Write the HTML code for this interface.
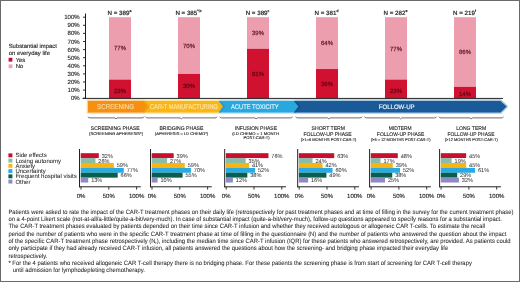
<!DOCTYPE html>
<html><head><meta charset="utf-8"><style>
html,body{margin:0;padding:0;background:#fff;}
svg{display:block;font-family:"Liberation Sans", sans-serif;will-change:transform;text-rendering:geometricPrecision;}
</style></head><body>
<svg width="520" height="282" viewBox="0 0 520 282" font-family='"Liberation Sans", sans-serif'>
<rect x="0.5" y="0.5" width="519" height="281" fill="#fff" stroke="#6a6a6a" stroke-width="1"/>
<text x="8.7" y="48.2" font-size="5.9" text-anchor="start" fill="#222222" stroke="#222222" stroke-width="0.12" >Substantial impact</text>
<text x="8.7" y="54.7" font-size="5.9" text-anchor="start" fill="#222222" stroke="#222222" stroke-width="0.12" >on everyday life</text>
<rect x="8.6" y="57.8" width="3.8" height="3.8" fill="#c0103a"/>
<text x="15.7" y="61.6" font-size="5.9" text-anchor="start" fill="#222222" stroke="#222222" stroke-width="0.12" >Yes</text>
<rect x="8.6" y="64.4" width="3.8" height="3.8" fill="#e9a3b3"/>
<text x="15.7" y="68.1" font-size="5.9" text-anchor="start" fill="#222222" stroke="#222222" stroke-width="0.12" >No</text>
<line x1="85.5" y1="13.5" x2="85.5" y2="98.7" stroke="#1a1a1a" stroke-width="1"/>
<line x1="83" y1="17.20" x2="85.5" y2="17.20" stroke="#1a1a1a" stroke-width="0.9"/>
<text x="79.8" y="19.20" font-size="6.1" text-anchor="end" fill="#222222" stroke="#222222" stroke-width="0.12" >100%</text>
<line x1="83" y1="25.30" x2="85.5" y2="25.30" stroke="#1a1a1a" stroke-width="0.9"/>
<text x="79.8" y="27.30" font-size="6.1" text-anchor="end" fill="#222222" stroke="#222222" stroke-width="0.12" >90%</text>
<line x1="83" y1="33.40" x2="85.5" y2="33.40" stroke="#1a1a1a" stroke-width="0.9"/>
<text x="79.8" y="35.40" font-size="6.1" text-anchor="end" fill="#222222" stroke="#222222" stroke-width="0.12" >80%</text>
<line x1="83" y1="41.50" x2="85.5" y2="41.50" stroke="#1a1a1a" stroke-width="0.9"/>
<text x="79.8" y="43.50" font-size="6.1" text-anchor="end" fill="#222222" stroke="#222222" stroke-width="0.12" >70%</text>
<line x1="83" y1="49.60" x2="85.5" y2="49.60" stroke="#1a1a1a" stroke-width="0.9"/>
<text x="79.8" y="51.60" font-size="6.1" text-anchor="end" fill="#222222" stroke="#222222" stroke-width="0.12" >60%</text>
<line x1="83" y1="57.70" x2="85.5" y2="57.70" stroke="#1a1a1a" stroke-width="0.9"/>
<text x="79.8" y="59.70" font-size="6.1" text-anchor="end" fill="#222222" stroke="#222222" stroke-width="0.12" >50%</text>
<line x1="83" y1="65.80" x2="85.5" y2="65.80" stroke="#1a1a1a" stroke-width="0.9"/>
<text x="79.8" y="67.80" font-size="6.1" text-anchor="end" fill="#222222" stroke="#222222" stroke-width="0.12" >40%</text>
<line x1="83" y1="73.90" x2="85.5" y2="73.90" stroke="#1a1a1a" stroke-width="0.9"/>
<text x="79.8" y="75.90" font-size="6.1" text-anchor="end" fill="#222222" stroke="#222222" stroke-width="0.12" >30%</text>
<line x1="83" y1="82.00" x2="85.5" y2="82.00" stroke="#1a1a1a" stroke-width="0.9"/>
<text x="79.8" y="84.00" font-size="6.1" text-anchor="end" fill="#222222" stroke="#222222" stroke-width="0.12" >20%</text>
<line x1="83" y1="90.10" x2="85.5" y2="90.10" stroke="#1a1a1a" stroke-width="0.9"/>
<text x="79.8" y="92.10" font-size="6.1" text-anchor="end" fill="#222222" stroke="#222222" stroke-width="0.12" >10%</text>
<line x1="83" y1="98.20" x2="85.5" y2="98.20" stroke="#1a1a1a" stroke-width="0.9"/>
<text x="79.8" y="100.20" font-size="6.1" text-anchor="end" fill="#222222" stroke="#222222" stroke-width="0.12" >0%</text>
<rect x="109" y="17.2" width="22" height="62.37" fill="#ed9eae"/>
<rect x="109" y="79.57" width="22" height="18.93" fill="#d0112f"/>
<text x="120" y="50.35" font-size="6" text-anchor="middle" fill="#6b2232" stroke="#6b2232" stroke-width="0.25" >77%</text>
<text x="120" y="92.55" font-size="6" text-anchor="middle" fill="#6a0616" stroke="#6a0616" stroke-width="0.25" >23%</text>
<text x="119.5" y="14.8" font-size="6.2" text-anchor="middle" fill="#222222" stroke="#222222" stroke-width="0.2">N = 389<tspan font-size="3.6" dy="-3.0">a</tspan></text>
<rect x="178" y="17.2" width="22" height="56.70" fill="#ed9eae"/>
<rect x="178" y="73.90" width="22" height="24.60" fill="#d0112f"/>
<text x="189" y="47.95" font-size="6" text-anchor="middle" fill="#6b2232" stroke="#6b2232" stroke-width="0.25" >70%</text>
<text x="189" y="87.55" font-size="6" text-anchor="middle" fill="#6a0616" stroke="#6a0616" stroke-width="0.25" >30%</text>
<text x="188.5" y="14.8" font-size="6.2" text-anchor="middle" fill="#222222" stroke="#222222" stroke-width="0.2">N = 385<tspan font-size="3.6" dy="-3.0">*,b</tspan></text>
<rect x="247" y="17.2" width="22" height="31.59" fill="#ed9eae"/>
<rect x="247" y="48.79" width="22" height="49.71" fill="#d0112f"/>
<text x="258" y="34.90" font-size="6" text-anchor="middle" fill="#6b2232" stroke="#6b2232" stroke-width="0.25" >39%</text>
<text x="258" y="76.15" font-size="6" text-anchor="middle" fill="#6a0616" stroke="#6a0616" stroke-width="0.25" >61%</text>
<text x="257.5" y="14.8" font-size="6.2" text-anchor="middle" fill="#222222" stroke="#222222" stroke-width="0.2">N = 389<tspan font-size="3.6" dy="-3.0">c</tspan></text>
<rect x="316" y="17.2" width="22" height="51.84" fill="#ed9eae"/>
<rect x="316" y="69.04" width="22" height="29.46" fill="#d0112f"/>
<text x="327" y="44.75" font-size="6" text-anchor="middle" fill="#6b2232" stroke="#6b2232" stroke-width="0.25" >64%</text>
<text x="327" y="85.95" font-size="6" text-anchor="middle" fill="#6a0616" stroke="#6a0616" stroke-width="0.25" >36%</text>
<text x="326.5" y="14.8" font-size="6.2" text-anchor="middle" fill="#222222" stroke="#222222" stroke-width="0.2">N = 381<tspan font-size="3.6" dy="-3.0">d</tspan></text>
<rect x="385" y="17.2" width="22" height="62.37" fill="#ed9eae"/>
<rect x="385" y="79.57" width="22" height="18.93" fill="#d0112f"/>
<text x="396" y="50.55" font-size="6" text-anchor="middle" fill="#6b2232" stroke="#6b2232" stroke-width="0.25" >77%</text>
<text x="396" y="92.55" font-size="6" text-anchor="middle" fill="#6a0616" stroke="#6a0616" stroke-width="0.25" >23%</text>
<text x="395.5" y="14.8" font-size="6.2" text-anchor="middle" fill="#222222" stroke="#222222" stroke-width="0.2">N = 282<tspan font-size="3.6" dy="-3.0">e</tspan></text>
<rect x="454" y="17.2" width="22" height="69.66" fill="#ed9eae"/>
<rect x="454" y="86.86" width="22" height="11.64" fill="#d0112f"/>
<text x="465" y="53.85" font-size="6" text-anchor="middle" fill="#6b2232" stroke="#6b2232" stroke-width="0.25" >86%</text>
<text x="465" y="95.65" font-size="6" text-anchor="middle" fill="#6a0616" stroke="#6a0616" stroke-width="0.25" >14%</text>
<text x="464.5" y="14.8" font-size="6.2" text-anchor="middle" fill="#222222" stroke="#222222" stroke-width="0.2">N = 219<tspan font-size="3.6" dy="-3.0">f</tspan></text>
<line x1="82.5" y1="98.4" x2="503" y2="98.4" stroke="#262626" stroke-width="1"/>
<polygon points="294,100.6 500.5,100.6 506.6,106.55 500.5,112.5 294,112.5" fill="#a4c8e2" stroke="#a4c8e2" stroke-width="2.6" stroke-linejoin="round"/>
<polygon points="219,100.6 293.8,100.6 298.4,106.55 293.8,112.5 219,112.5" fill="#b5e0f4" stroke="#b5e0f4" stroke-width="2.6" stroke-linejoin="round"/>
<polygon points="143,100.6 218.6,100.6 223.0,106.55 218.6,112.5 143,112.5" fill="#fde6a0" stroke="#fde6a0" stroke-width="2.6" stroke-linejoin="round"/>
<polygon points="88,100.6 143.3,100.6 147.2,106.55 143.3,112.5 88,112.5" fill="#fcd49a" stroke="#fcd49a" stroke-width="2.6" stroke-linejoin="round"/>
<polygon points="294,101.0 500.5,101.0 506.6,106.55 500.5,112.5 294,112.5" fill="#1b5a98"/>
<polygon points="293.8,101.0 298.4,106.55 293.8,112.5 296.0,112.5 300.59999999999997,106.55 296.0,101.0" fill="#104a80" opacity="0.7"/>
<polygon points="219,101.0 293.8,101.0 298.4,106.55 293.8,112.5 219,112.5" fill="#29a8e0"/>
<polygon points="218.6,101.0 223.0,106.55 218.6,112.5 220.79999999999998,112.5 225.2,106.55 220.79999999999998,101.0" fill="#2196cc" opacity="0.7"/>
<polygon points="143,101.0 218.6,101.0 223.0,106.55 218.6,112.5 143,112.5" fill="#fab517"/>
<polygon points="143.3,101.0 147.2,106.55 143.3,112.5 145.5,112.5 149.39999999999998,106.55 145.5,101.0" fill="#ec9d10" opacity="0.7"/>
<polygon points="88,101.0 143.3,101.0 147.2,106.55 143.3,112.5 88,112.5" fill="#f6900f"/>
<text x="115.55" y="108.9" font-size="7.0" text-anchor="middle" fill="#fcd9a6" stroke="#fcd9a6" stroke-width="0.15" textLength="37.00" lengthAdjust="spacingAndGlyphs" >SCREENING</text>
<text x="184.0" y="109.1" font-size="7.0" text-anchor="middle" fill="#fde7a6" stroke="#fde7a6" stroke-width="0.15" textLength="67.90" lengthAdjust="spacingAndGlyphs" >CAR-T MANUFACTURING</text>
<text x="254.85" y="109.0" font-size="6.7" text-anchor="middle" fill="#e3f4fc" stroke="#e3f4fc" stroke-width="0.15" textLength="47.80" lengthAdjust="spacingAndGlyphs" >ACUTE TOXICITY</text>
<text x="396.7" y="108.8" font-size="6.5" text-anchor="middle" fill="#eef3f9" stroke="#eef3f9" stroke-width="0.18" textLength="35.90" lengthAdjust="spacingAndGlyphs" >FOLLOW-UP</text>
<path d="M88,116.7 Q88.3,117.9 90,117.9 L114.8,117.9 L116.0,118.9 L117.2,117.9 L142,117.9 Q143.7,117.9 144,116.7" fill="none" stroke="#5f5a58" stroke-width="0.9"/>
<path d="M145.6,116.7 Q145.9,117.9 147.6,117.9 L180.10000000000002,117.9 L181.3,118.9 L182.5,117.9 L215,117.9 Q216.7,117.9 217,116.7" fill="none" stroke="#5f5a58" stroke-width="0.9"/>
<path d="M219.7,116.7 Q220.0,117.9 221.7,117.9 L254.90000000000003,117.9 L256.1,118.9 L257.3,117.9 L290.5,117.9 Q292.2,117.9 292.5,116.7" fill="none" stroke="#5f5a58" stroke-width="0.9"/>
<path d="M295.7,116.7 Q296.0,117.9 297.7,117.9 L327.65000000000003,117.9 L328.85,118.9 L330.05,117.9 L360,117.9 Q361.7,117.9 362,116.7" fill="none" stroke="#5f5a58" stroke-width="0.9"/>
<path d="M364.5,116.7 Q364.8,117.9 366.5,117.9 L399.3,117.9 L400.5,118.9 L401.7,117.9 L434.5,117.9 Q436.2,117.9 436.5,116.7" fill="none" stroke="#5f5a58" stroke-width="0.9"/>
<path d="M439,116.7 Q439.3,117.9 441,117.9 L469.95,117.9 L471.15,118.9 L472.34999999999997,117.9 L501.3,117.9 Q503.0,117.9 503.3,116.7" fill="none" stroke="#5f5a58" stroke-width="0.9"/>
<text x="115.25" y="130.1" font-size="5.3" text-anchor="middle" fill="#222" stroke="#222" stroke-width="0.1" textLength="49.00" lengthAdjust="spacingAndGlyphs" >SCREENING PHASE</text>
<text x="116.1" y="134.8" font-size="4.1" text-anchor="middle" fill="#222" stroke="#222" stroke-width="0.12" textLength="54.10" lengthAdjust="spacingAndGlyphs" >(SCREENING APHERESIS*)</text>
<text x="181.45" y="130.1" font-size="5.3" text-anchor="middle" fill="#222" stroke="#222" stroke-width="0.1" textLength="44.00" lengthAdjust="spacingAndGlyphs" >BRIDGING PHASE</text>
<text x="181.5" y="134.8" font-size="4.1" text-anchor="middle" fill="#222" stroke="#222" stroke-width="0.12" textLength="53.30" lengthAdjust="spacingAndGlyphs" >(APHERESIS – LD CHEMO*)</text>
<text x="255.95" y="130.1" font-size="5.3" text-anchor="middle" fill="#222" stroke="#222" stroke-width="0.1" textLength="42.20" lengthAdjust="spacingAndGlyphs" >INFUSION PHASE</text>
<text x="255.6" y="134.8" font-size="4.1" text-anchor="middle" fill="#222" stroke="#222" stroke-width="0.12" textLength="46.90" lengthAdjust="spacingAndGlyphs" >(LD CHEMO – 1 MONTH</text>
<text x="256.6" y="139.1" font-size="4.1" text-anchor="middle" fill="#222" stroke="#222" stroke-width="0.12" textLength="26.10" lengthAdjust="spacingAndGlyphs" >POST-CAR-T)</text>
<text x="328.3" y="130.1" font-size="5.3" text-anchor="middle" fill="#222" stroke="#222" stroke-width="0.1" textLength="33.50" lengthAdjust="spacingAndGlyphs" >SHORT TERM</text>
<text x="327.6" y="135.7" font-size="5.3" text-anchor="middle" fill="#222" stroke="#222" stroke-width="0.1" textLength="48.30" lengthAdjust="spacingAndGlyphs" >FOLLOW-UP PHASE</text>
<text x="328.6" y="140.9" font-size="4.1" text-anchor="middle" fill="#222" stroke="#222" stroke-width="0.12" textLength="55.70" lengthAdjust="spacingAndGlyphs" >(&gt;1–6 MONTHS POST-CAR-T)</text>
<text x="400.2" y="130.1" font-size="5.3" text-anchor="middle" fill="#222" stroke="#222" stroke-width="0.1" textLength="22.90" lengthAdjust="spacingAndGlyphs" >MIDTERM</text>
<text x="400.65" y="135.7" font-size="5.3" text-anchor="middle" fill="#222" stroke="#222" stroke-width="0.1" textLength="47.60" lengthAdjust="spacingAndGlyphs" >FOLLOW-UP PHASE</text>
<text x="400.65" y="140.9" font-size="4.1" text-anchor="middle" fill="#222" stroke="#222" stroke-width="0.12" textLength="59.80" lengthAdjust="spacingAndGlyphs" >(&gt;6 – 12 MONTHS POST-CAR-T)</text>
<text x="471.2" y="130.1" font-size="5.3" text-anchor="middle" fill="#222" stroke="#222" stroke-width="0.1" textLength="29.90" lengthAdjust="spacingAndGlyphs" >LONG TERM</text>
<text x="471.0" y="135.7" font-size="5.3" text-anchor="middle" fill="#222" stroke="#222" stroke-width="0.1" textLength="46.90" lengthAdjust="spacingAndGlyphs" >FOLLOW-UP PHASE</text>
<text x="471.3" y="140.9" font-size="4.1" text-anchor="middle" fill="#222" stroke="#222" stroke-width="0.12" textLength="53.10" lengthAdjust="spacingAndGlyphs" >(&gt;12 MONTHS POST-CAR-T)</text>
<rect x="8.4" y="153.40" width="4" height="3.9" fill="#c8102e"/>
<text x="15.4" y="157.30" font-size="6.0" text-anchor="start" fill="#2a2a2a" stroke="#2a2a2a" stroke-width="0.06" >Side effects</text>
<rect x="8.4" y="158.65" width="4" height="3.9" fill="#88bea9"/>
<text x="15.4" y="162.55" font-size="6.0" text-anchor="start" fill="#2a2a2a" stroke="#2a2a2a" stroke-width="0.06" >Losing autonomy</text>
<rect x="8.4" y="163.90" width="4" height="3.9" fill="#f8b512"/>
<text x="15.4" y="167.80" font-size="6.0" text-anchor="start" fill="#2a2a2a" stroke="#2a2a2a" stroke-width="0.06" >Anxiety</text>
<rect x="8.4" y="169.15" width="4" height="3.9" fill="#29aae1"/>
<text x="15.4" y="173.05" font-size="6.0" text-anchor="start" fill="#2a2a2a" stroke="#2a2a2a" stroke-width="0.06" >Uncertainty</text>
<rect x="8.4" y="174.40" width="4" height="3.9" fill="#07604d"/>
<text x="15.4" y="178.30" font-size="6.0" text-anchor="start" fill="#2a2a2a" stroke="#2a2a2a" stroke-width="0.06" >Frequent hospital visits</text>
<rect x="8.4" y="179.65" width="4" height="3.9" fill="#9189c6"/>
<text x="15.4" y="183.55" font-size="6.0" text-anchor="start" fill="#2a2a2a" stroke="#2a2a2a" stroke-width="0.06" >Other</text>
<rect x="80.7" y="153.20" width="18.09" height="4.93" fill="#c8102e"/>
<rect x="80.7" y="158.08" width="14.76" height="4.93" fill="#88bea9"/>
<rect x="80.7" y="162.96" width="33.10" height="4.93" fill="#f8b512"/>
<rect x="80.7" y="167.84" width="43.11" height="4.93" fill="#29aae1"/>
<rect x="80.7" y="172.72" width="37.00" height="4.93" fill="#07604d"/>
<rect x="80.7" y="177.60" width="7.53" height="4.93" fill="#9189c6"/>
<rect x="99.79" y="153.50" width="13.5" height="4.28" fill="#fff"/>
<text x="101.69" y="157.64" font-size="5.6" text-anchor="start" fill="#3a3a3a" stroke="#3a3a3a" stroke-width="0.05" >32%</text>
<rect x="96.46" y="158.38" width="13.5" height="4.28" fill="#fff"/>
<text x="98.36" y="162.52" font-size="5.6" text-anchor="start" fill="#3a3a3a" stroke="#3a3a3a" stroke-width="0.05" >26%</text>
<rect x="114.80" y="163.26" width="13.5" height="4.28" fill="#fff"/>
<text x="116.70" y="167.40" font-size="5.6" text-anchor="start" fill="#3a3a3a" stroke="#3a3a3a" stroke-width="0.05" >59%</text>
<rect x="124.81" y="168.14" width="13.5" height="4.28" fill="#fff"/>
<text x="126.71" y="172.28" font-size="5.6" text-anchor="start" fill="#3a3a3a" stroke="#3a3a3a" stroke-width="0.05" >77%</text>
<rect x="118.70" y="173.02" width="13.5" height="4.28" fill="#fff"/>
<text x="120.60" y="177.16" font-size="5.6" text-anchor="start" fill="#3a3a3a" stroke="#3a3a3a" stroke-width="0.05" >66%</text>
<rect x="89.23" y="177.90" width="13.5" height="4.28" fill="#fff"/>
<text x="91.13" y="182.04" font-size="5.6" text-anchor="start" fill="#3a3a3a" stroke="#3a3a3a" stroke-width="0.05" >13%</text>
<line x1="79.5" y1="149" x2="79.5" y2="187.3" stroke="#222" stroke-width="1"/>
<line x1="79.0" y1="186.8" x2="140.8" y2="186.8" stroke="#222" stroke-width="1"/>
<line x1="81.00" y1="186.8" x2="81.00" y2="189.6" stroke="#222" stroke-width="0.9"/>
<text x="81.00" y="198" font-size="6" text-anchor="middle" fill="#222222" stroke="#222222" stroke-width="0.12" >0%</text>
<line x1="108.80" y1="186.8" x2="108.80" y2="189.6" stroke="#222" stroke-width="0.9"/>
<text x="108.80" y="198" font-size="6" text-anchor="middle" fill="#222222" stroke="#222222" stroke-width="0.12" >50%</text>
<line x1="136.60" y1="186.8" x2="136.60" y2="189.6" stroke="#222" stroke-width="0.9"/>
<text x="136.60" y="198" font-size="6" text-anchor="middle" fill="#222222" stroke="#222222" stroke-width="0.12" >100%</text>
<rect x="151.7" y="153.20" width="21.98" height="4.93" fill="#c8102e"/>
<rect x="151.7" y="158.08" width="15.31" height="4.93" fill="#88bea9"/>
<rect x="151.7" y="162.96" width="33.10" height="4.93" fill="#f8b512"/>
<rect x="151.7" y="167.84" width="39.22" height="4.93" fill="#29aae1"/>
<rect x="151.7" y="172.72" width="30.88" height="4.93" fill="#07604d"/>
<rect x="151.7" y="177.60" width="5.86" height="4.93" fill="#9189c6"/>
<rect x="174.68" y="153.50" width="13.5" height="4.28" fill="#fff"/>
<text x="176.58" y="157.64" font-size="5.6" text-anchor="start" fill="#3a3a3a" stroke="#3a3a3a" stroke-width="0.05" >39%</text>
<rect x="168.01" y="158.38" width="13.5" height="4.28" fill="#fff"/>
<text x="169.91" y="162.52" font-size="5.6" text-anchor="start" fill="#3a3a3a" stroke="#3a3a3a" stroke-width="0.05" >27%</text>
<rect x="185.80" y="163.26" width="13.5" height="4.28" fill="#fff"/>
<text x="187.70" y="167.40" font-size="5.6" text-anchor="start" fill="#3a3a3a" stroke="#3a3a3a" stroke-width="0.05" >59%</text>
<rect x="191.92" y="168.14" width="13.5" height="4.28" fill="#fff"/>
<text x="193.82" y="172.28" font-size="5.6" text-anchor="start" fill="#3a3a3a" stroke="#3a3a3a" stroke-width="0.05" >70%</text>
<rect x="183.58" y="173.02" width="13.5" height="4.28" fill="#fff"/>
<text x="185.48" y="177.16" font-size="5.6" text-anchor="start" fill="#3a3a3a" stroke="#3a3a3a" stroke-width="0.05" >55%</text>
<rect x="158.56" y="177.90" width="13.5" height="4.28" fill="#fff"/>
<text x="160.46" y="182.04" font-size="5.6" text-anchor="start" fill="#3a3a3a" stroke="#3a3a3a" stroke-width="0.05" >10%</text>
<line x1="150.5" y1="149" x2="150.5" y2="187.3" stroke="#222" stroke-width="1"/>
<line x1="150.0" y1="186.8" x2="211.8" y2="186.8" stroke="#222" stroke-width="1"/>
<line x1="152.00" y1="186.8" x2="152.00" y2="189.6" stroke="#222" stroke-width="0.9"/>
<text x="152.00" y="198" font-size="6" text-anchor="middle" fill="#222222" stroke="#222222" stroke-width="0.12" >0%</text>
<line x1="179.80" y1="186.8" x2="179.80" y2="189.6" stroke="#222" stroke-width="0.9"/>
<text x="179.80" y="198" font-size="6" text-anchor="middle" fill="#222222" stroke="#222222" stroke-width="0.12" >50%</text>
<line x1="207.60" y1="186.8" x2="207.60" y2="189.6" stroke="#222" stroke-width="0.9"/>
<text x="207.60" y="198" font-size="6" text-anchor="middle" fill="#222222" stroke="#222222" stroke-width="0.12" >100%</text>
<rect x="225.89999999999998" y="153.20" width="42.56" height="4.93" fill="#c8102e"/>
<rect x="225.89999999999998" y="158.08" width="19.76" height="4.93" fill="#88bea9"/>
<rect x="225.89999999999998" y="162.96" width="23.10" height="4.93" fill="#f8b512"/>
<rect x="225.89999999999998" y="167.84" width="29.21" height="4.93" fill="#29aae1"/>
<rect x="225.89999999999998" y="172.72" width="21.43" height="4.93" fill="#07604d"/>
<rect x="225.89999999999998" y="177.60" width="6.97" height="4.93" fill="#9189c6"/>
<rect x="269.46" y="153.50" width="13.5" height="4.28" fill="#fff"/>
<text x="271.36" y="157.64" font-size="5.6" text-anchor="start" fill="#3a3a3a" stroke="#3a3a3a" stroke-width="0.05" >76%</text>
<rect x="246.66" y="158.38" width="13.5" height="4.28" fill="#fff"/>
<text x="248.56" y="162.52" font-size="5.6" text-anchor="start" fill="#3a3a3a" stroke="#3a3a3a" stroke-width="0.05" >35%</text>
<rect x="250.00" y="163.26" width="13.5" height="4.28" fill="#fff"/>
<text x="251.90" y="167.40" font-size="5.6" text-anchor="start" fill="#3a3a3a" stroke="#3a3a3a" stroke-width="0.05" >41%</text>
<rect x="256.11" y="168.14" width="13.5" height="4.28" fill="#fff"/>
<text x="258.01" y="172.28" font-size="5.6" text-anchor="start" fill="#3a3a3a" stroke="#3a3a3a" stroke-width="0.05" >52%</text>
<rect x="248.33" y="173.02" width="13.5" height="4.28" fill="#fff"/>
<text x="250.23" y="177.16" font-size="5.6" text-anchor="start" fill="#3a3a3a" stroke="#3a3a3a" stroke-width="0.05" >38%</text>
<rect x="233.87" y="177.90" width="13.5" height="4.28" fill="#fff"/>
<text x="235.77" y="182.04" font-size="5.6" text-anchor="start" fill="#3a3a3a" stroke="#3a3a3a" stroke-width="0.05" >12%</text>
<line x1="224.7" y1="149" x2="224.7" y2="187.3" stroke="#222" stroke-width="1"/>
<line x1="224.2" y1="186.8" x2="286.0" y2="186.8" stroke="#222" stroke-width="1"/>
<line x1="226.20" y1="186.8" x2="226.20" y2="189.6" stroke="#222" stroke-width="0.9"/>
<text x="226.20" y="198" font-size="6" text-anchor="middle" fill="#222222" stroke="#222222" stroke-width="0.12" >0%</text>
<line x1="254.00" y1="186.8" x2="254.00" y2="189.6" stroke="#222" stroke-width="0.9"/>
<text x="254.00" y="198" font-size="6" text-anchor="middle" fill="#222222" stroke="#222222" stroke-width="0.12" >50%</text>
<line x1="281.80" y1="186.8" x2="281.80" y2="189.6" stroke="#222" stroke-width="0.9"/>
<text x="281.80" y="198" font-size="6" text-anchor="middle" fill="#222222" stroke="#222222" stroke-width="0.12" >100%</text>
<rect x="298.9" y="153.20" width="35.33" height="4.93" fill="#c8102e"/>
<rect x="298.9" y="158.08" width="13.64" height="4.93" fill="#88bea9"/>
<rect x="298.9" y="162.96" width="23.65" height="4.93" fill="#f8b512"/>
<rect x="298.9" y="167.84" width="33.66" height="4.93" fill="#29aae1"/>
<rect x="298.9" y="172.72" width="27.54" height="4.93" fill="#07604d"/>
<rect x="298.9" y="177.60" width="9.20" height="4.93" fill="#9189c6"/>
<rect x="335.23" y="153.50" width="13.5" height="4.28" fill="#fff"/>
<text x="337.13" y="157.64" font-size="5.6" text-anchor="start" fill="#3a3a3a" stroke="#3a3a3a" stroke-width="0.05" >63%</text>
<rect x="313.54" y="158.38" width="13.5" height="4.28" fill="#fff"/>
<text x="315.44" y="162.52" font-size="5.6" text-anchor="start" fill="#3a3a3a" stroke="#3a3a3a" stroke-width="0.05" >24%</text>
<rect x="323.55" y="163.26" width="13.5" height="4.28" fill="#fff"/>
<text x="325.45" y="167.40" font-size="5.6" text-anchor="start" fill="#3a3a3a" stroke="#3a3a3a" stroke-width="0.05" >42%</text>
<rect x="333.56" y="168.14" width="13.5" height="4.28" fill="#fff"/>
<text x="335.46" y="172.28" font-size="5.6" text-anchor="start" fill="#3a3a3a" stroke="#3a3a3a" stroke-width="0.05" >60%</text>
<rect x="327.44" y="173.02" width="13.5" height="4.28" fill="#fff"/>
<text x="329.34" y="177.16" font-size="5.6" text-anchor="start" fill="#3a3a3a" stroke="#3a3a3a" stroke-width="0.05" >49%</text>
<rect x="309.10" y="177.90" width="13.5" height="4.28" fill="#fff"/>
<text x="311.00" y="182.04" font-size="5.6" text-anchor="start" fill="#3a3a3a" stroke="#3a3a3a" stroke-width="0.05" >16%</text>
<line x1="297.7" y1="149" x2="297.7" y2="187.3" stroke="#222" stroke-width="1"/>
<line x1="297.2" y1="186.8" x2="359.0" y2="186.8" stroke="#222" stroke-width="1"/>
<line x1="299.20" y1="186.8" x2="299.20" y2="189.6" stroke="#222" stroke-width="0.9"/>
<text x="299.20" y="198" font-size="6" text-anchor="middle" fill="#222222" stroke="#222222" stroke-width="0.12" >0%</text>
<line x1="327.00" y1="186.8" x2="327.00" y2="189.6" stroke="#222" stroke-width="0.9"/>
<text x="327.00" y="198" font-size="6" text-anchor="middle" fill="#222222" stroke="#222222" stroke-width="0.12" >50%</text>
<line x1="354.80" y1="186.8" x2="354.80" y2="189.6" stroke="#222" stroke-width="0.9"/>
<text x="354.80" y="198" font-size="6" text-anchor="middle" fill="#222222" stroke="#222222" stroke-width="0.12" >100%</text>
<rect x="370.8" y="153.20" width="26.99" height="4.93" fill="#c8102e"/>
<rect x="370.8" y="158.08" width="9.75" height="4.93" fill="#88bea9"/>
<rect x="370.8" y="162.96" width="21.98" height="4.93" fill="#f8b512"/>
<rect x="370.8" y="167.84" width="29.21" height="4.93" fill="#29aae1"/>
<rect x="370.8" y="172.72" width="21.43" height="4.93" fill="#07604d"/>
<rect x="370.8" y="177.60" width="14.20" height="4.93" fill="#9189c6"/>
<rect x="398.79" y="153.50" width="13.5" height="4.28" fill="#fff"/>
<text x="400.69" y="157.64" font-size="5.6" text-anchor="start" fill="#3a3a3a" stroke="#3a3a3a" stroke-width="0.05" >48%</text>
<rect x="381.55" y="158.38" width="13.5" height="4.28" fill="#fff"/>
<text x="383.45" y="162.52" font-size="5.6" text-anchor="start" fill="#3a3a3a" stroke="#3a3a3a" stroke-width="0.05" >17%</text>
<rect x="393.78" y="163.26" width="13.5" height="4.28" fill="#fff"/>
<text x="395.68" y="167.40" font-size="5.6" text-anchor="start" fill="#3a3a3a" stroke="#3a3a3a" stroke-width="0.05" >39%</text>
<rect x="401.01" y="168.14" width="13.5" height="4.28" fill="#fff"/>
<text x="402.91" y="172.28" font-size="5.6" text-anchor="start" fill="#3a3a3a" stroke="#3a3a3a" stroke-width="0.05" >52%</text>
<rect x="393.23" y="173.02" width="13.5" height="4.28" fill="#fff"/>
<text x="395.13" y="177.16" font-size="5.6" text-anchor="start" fill="#3a3a3a" stroke="#3a3a3a" stroke-width="0.05" >38%</text>
<rect x="386.00" y="177.90" width="13.5" height="4.28" fill="#fff"/>
<text x="387.90" y="182.04" font-size="5.6" text-anchor="start" fill="#3a3a3a" stroke="#3a3a3a" stroke-width="0.05" >25%</text>
<line x1="369.6" y1="149" x2="369.6" y2="187.3" stroke="#222" stroke-width="1"/>
<line x1="369.1" y1="186.8" x2="430.90000000000003" y2="186.8" stroke="#222" stroke-width="1"/>
<line x1="371.10" y1="186.8" x2="371.10" y2="189.6" stroke="#222" stroke-width="0.9"/>
<text x="371.10" y="198" font-size="6" text-anchor="middle" fill="#222222" stroke="#222222" stroke-width="0.12" >0%</text>
<line x1="398.90" y1="186.8" x2="398.90" y2="189.6" stroke="#222" stroke-width="0.9"/>
<text x="398.90" y="198" font-size="6" text-anchor="middle" fill="#222222" stroke="#222222" stroke-width="0.12" >50%</text>
<line x1="426.70" y1="186.8" x2="426.70" y2="189.6" stroke="#222" stroke-width="0.9"/>
<text x="426.70" y="198" font-size="6" text-anchor="middle" fill="#222222" stroke="#222222" stroke-width="0.12" >100%</text>
<rect x="440.8" y="153.20" width="25.32" height="4.93" fill="#c8102e"/>
<rect x="440.8" y="158.08" width="10.86" height="4.93" fill="#88bea9"/>
<rect x="440.8" y="162.96" width="25.32" height="4.93" fill="#f8b512"/>
<rect x="440.8" y="167.84" width="34.22" height="4.93" fill="#29aae1"/>
<rect x="440.8" y="172.72" width="16.42" height="4.93" fill="#07604d"/>
<rect x="440.8" y="177.60" width="18.09" height="4.93" fill="#9189c6"/>
<rect x="467.12" y="153.50" width="13.5" height="4.28" fill="#fff"/>
<text x="469.02" y="157.64" font-size="5.6" text-anchor="start" fill="#3a3a3a" stroke="#3a3a3a" stroke-width="0.05" >45%</text>
<rect x="452.66" y="158.38" width="13.5" height="4.28" fill="#fff"/>
<text x="454.56" y="162.52" font-size="5.6" text-anchor="start" fill="#3a3a3a" stroke="#3a3a3a" stroke-width="0.05" >19%</text>
<rect x="467.12" y="163.26" width="13.5" height="4.28" fill="#fff"/>
<text x="469.02" y="167.40" font-size="5.6" text-anchor="start" fill="#3a3a3a" stroke="#3a3a3a" stroke-width="0.05" >45%</text>
<rect x="476.02" y="168.14" width="13.5" height="4.28" fill="#fff"/>
<text x="477.92" y="172.28" font-size="5.6" text-anchor="start" fill="#3a3a3a" stroke="#3a3a3a" stroke-width="0.05" >61%</text>
<rect x="458.22" y="173.02" width="13.5" height="4.28" fill="#fff"/>
<text x="460.12" y="177.16" font-size="5.6" text-anchor="start" fill="#3a3a3a" stroke="#3a3a3a" stroke-width="0.05" >29%</text>
<rect x="459.89" y="177.90" width="13.5" height="4.28" fill="#fff"/>
<text x="461.79" y="182.04" font-size="5.6" text-anchor="start" fill="#3a3a3a" stroke="#3a3a3a" stroke-width="0.05" >32%</text>
<line x1="439.6" y1="149" x2="439.6" y2="187.3" stroke="#222" stroke-width="1"/>
<line x1="439.1" y1="186.8" x2="500.90000000000003" y2="186.8" stroke="#222" stroke-width="1"/>
<line x1="441.10" y1="186.8" x2="441.10" y2="189.6" stroke="#222" stroke-width="0.9"/>
<text x="441.10" y="198" font-size="6" text-anchor="middle" fill="#222222" stroke="#222222" stroke-width="0.12" >0%</text>
<line x1="468.90" y1="186.8" x2="468.90" y2="189.6" stroke="#222" stroke-width="0.9"/>
<text x="468.90" y="198" font-size="6" text-anchor="middle" fill="#222222" stroke="#222222" stroke-width="0.12" >50%</text>
<line x1="496.70" y1="186.8" x2="496.70" y2="189.6" stroke="#222" stroke-width="0.9"/>
<text x="496.70" y="198" font-size="6" text-anchor="middle" fill="#222222" stroke="#222222" stroke-width="0.12" >100%</text>
<text x="8.45" y="213.8" font-size="6.25" text-anchor="start" fill="#2a2a2a" stroke="#2a2a2a" stroke-width="0.06" textLength="505.00" lengthAdjust="spacingAndGlyphs" >Patients were asked to rate the impact of the CAR-T treatment phases on their daily life (retrospectively for past treatment phases and at time of filling in the survey for the current treatment phase)</text>
<text x="8.45" y="221.1" font-size="6.25" text-anchor="start" fill="#2a2a2a" stroke="#2a2a2a" stroke-width="0.06" textLength="493.40" lengthAdjust="spacingAndGlyphs" >on a 4-point Likert scale (not-at-all/a-little/quite-a-bit/very-much). In case of substantial impact (quite-a-bit/very-much), follow-up questions appeared to specify reasons for a substantial impact.</text>
<text x="8.45" y="228.4" font-size="6.25" text-anchor="start" fill="#2a2a2a" stroke="#2a2a2a" stroke-width="0.06" textLength="476.60" lengthAdjust="spacingAndGlyphs" >The CAR-T treatment phases evaluated by patients depended on their time since CAR-T infusion and whether they received autologous or allogeneic CAR T-cells. To estimate the recall</text>
<text x="8.45" y="235.7" font-size="6.25" text-anchor="start" fill="#2a2a2a" stroke="#2a2a2a" stroke-width="0.06" textLength="497.90" lengthAdjust="spacingAndGlyphs" >period the number of patients who were in the specific CAR-T treatment phase at time of filling in the questionnaire (N) and the number of patients who answered the question about the impact</text>
<text x="8.45" y="243.0" font-size="6.25" text-anchor="start" fill="#2a2a2a" stroke="#2a2a2a" stroke-width="0.06" textLength="502.20" lengthAdjust="spacingAndGlyphs" >of the specific CAR-T treatment phase retrospectively (N<tspan font-size="3.6" dy="1.2">r</tspan><tspan dy="-1.2">), including the median time since CAR-T infusion (IQR) for these patients who answered retrospectively, are provided. As patients could</tspan></text>
<text x="8.45" y="250.3" font-size="6.25" text-anchor="start" fill="#2a2a2a" stroke="#2a2a2a" stroke-width="0.06" textLength="439.70" lengthAdjust="spacingAndGlyphs" >only participate if they had already received CAR-T infusion, all patients answered the questions about how the screening- and bridging phase impacted their everyday life</text>
<text x="8.45" y="257.6" font-size="6.25" text-anchor="start" fill="#2a2a2a" stroke="#2a2a2a" stroke-width="0.06" textLength="38.90" lengthAdjust="spacingAndGlyphs" >retrospectively.</text>
<text x="8.45" y="264.9" font-size="6.25" text-anchor="start" fill="#2a2a2a" stroke="#2a2a2a" stroke-width="0.06" textLength="463.40" lengthAdjust="spacingAndGlyphs" >* For the 4 patients who received allogeneic CAR T-cell therapy there is no bridging phase. For these patients the screening phase is from start of screening for CAR T-cell therapy</text>
<text x="12.75" y="272.2" font-size="6.25" text-anchor="start" fill="#2a2a2a" stroke="#2a2a2a" stroke-width="0.06" textLength="132.10" lengthAdjust="spacingAndGlyphs" >until admission for lymphodepleting chemotherapy.</text>
</svg>
</body></html>
